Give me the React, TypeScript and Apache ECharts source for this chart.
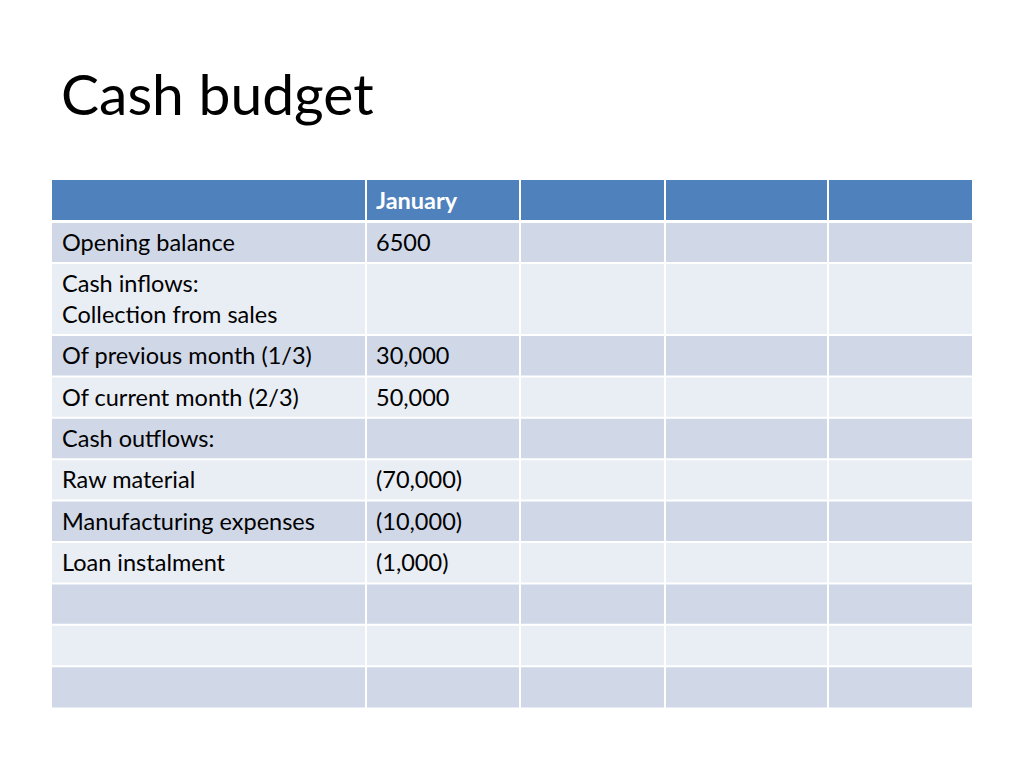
import React, { useEffect, useRef } from "react";
import * as echarts from "echarts";

const titleText = "Cash budget";
const headerRow = ["", "January", "", "", ""];
const rowLabels = [
  "Opening balance",
  "Cash inflows:\nCollection from sales",
  "Of previous month (1/3)",
  "Of current month (2/3)",
  "Cash outflows:",
  "Raw material",
  "Manufacturing expenses",
  "Loan instalment",
  "",
  "",
  "",
];
const januaryValues = ["6500", "", "30,000", "50,000", "", "(70,000)", "(10,000)", "(1,000)", "", "", ""];

// layout (axis units = px inside grid)
const colEdges = [0, 314, 468, 613, 776, 920];
const rowHeights = [42, 41, 72, 41.4, 41.4, 41.4, 41.4, 41.4, 41.4, 41.4, 41.4, 41.4];
const rowEdges: number[] = [0];
rowHeights.forEach((h, i) => rowEdges.push(rowEdges[i] + h));
const totalH = rowEdges[rowEdges.length - 1];
const totalW = colEdges[colEdges.length - 1];

const FONT = "Lato, 'Noto Sans', sans-serif";
const HEADER_COLOR = "#4F81BD";
const BAND1 = "#D0D8E8";
const BAND2 = "#E9EDF4";

type Cell = { col: number; row: number; text: string };
const cells: Cell[] = [];
for (let r = 0; r < rowHeights.length; r++) {
  for (let c = 0; c < colEdges.length - 1; c++) {
    let text = "";
    if (r === 0) text = headerRow[c];
    else if (c === 0) text = rowLabels[r - 1];
    else if (c === 1) text = januaryValues[r - 1];
    cells.push({ col: c, row: r, text });
  }
}

export default function App() {
  const ref = useRef<HTMLDivElement>(null);
  useEffect(() => {
    if (!ref.current) return;
    const chart = echarts.init(ref.current, undefined, { renderer: "svg" });
    chart.setOption({
      animation: false,
      backgroundColor: "#ffffff",
      title: {
        text: titleText,
        left: 61,
        top: 64,
        padding: 0,
        textStyle: { fontSize: 57, fontWeight: "normal", color: "#000", fontFamily: FONT },
      },
      grid: { left: 52, top: 180, width: totalW, height: totalH },
      xAxis: { type: "value", min: 0, max: totalW, show: false },
      yAxis: { type: "value", min: 0, max: totalH, inverse: true, show: false },
      series: [
        {
          type: "custom",
          coordinateSystem: "cartesian2d",
          data: cells.map((c) => [c.col, c.row]),
          renderItem: (params: any, api: any) => {
            const cell = cells[params.dataIndex];
            const c = cell.col;
            const r = cell.row;
            const p0 = api.coord([colEdges[c], rowEdges[r]]);
            const p1 = api.coord([colEdges[c + 1], rowEdges[r + 1]]);
            const left = p0[0] + (c > 0 ? 1 : 0);
            const right = p1[0] - (c < colEdges.length - 2 ? 1 : 0);
            const top = p0[1] + (r > 0 ? 1 : 0);
            const bottom = p1[1] - (r === 0 ? 2 : r < rowHeights.length - 1 ? 1 : 0);
            const fill = r === 0 ? HEADER_COLOR : r % 2 === 1 ? BAND1 : BAND2;
            const children: any[] = [
              {
                type: "rect",
                shape: { x: left, y: top, width: right - left, height: bottom - top },
                style: { fill },
              },
            ];
            if (cell.text) {
              children.push({
                type: "text",
                style: {
                  text: cell.text,
                  x: p0[0] + 10,
                  y: (top + bottom) / 2 - 0.5,
                  verticalAlign: "middle",
                  align: "left",
                  fontSize: 23.5,
                  lineHeight: 31,
                  fontFamily: FONT,
                  fontWeight: r === 0 ? "bold" : "normal",
                  fill: r === 0 ? "#ffffff" : "#000000",
                },
              });
            }
            return { type: "group", children };
          },
        },
      ],
    });
    return () => chart.dispose();
  }, []);
  return <div ref={ref} style={{ position: "fixed", left: 0, top: 0, width: 1024, height: 768 }} />;
}
